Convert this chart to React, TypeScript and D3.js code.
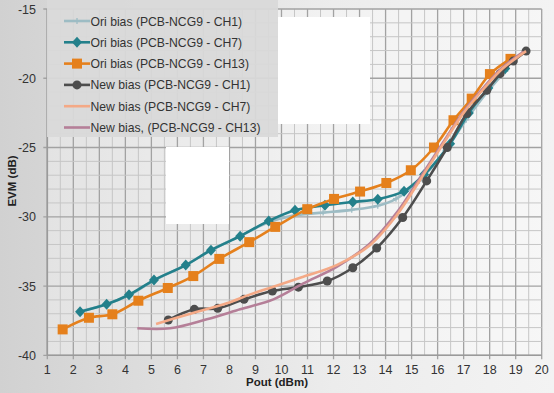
import { useEffect, useRef } from "react";
import * as d3 from "d3";

type Pt = [number, number];

// Pout (dBm), EVM (dB)
const oriCh1: Pt[] = [
  [2.3, -36.8], [3.3, -36.3], [4.2, -35.6], [5.1, -34.6], [6.3, -33.5], [7.3, -32.4],
  [8.4, -31.4], [9.5, -30.4], [10.5, -29.9], [11.6, -29.7], [12.7, -29.5], [13.7, -29.2],
  [14.4, -28.7], [15.3, -27.4], [16.3, -25.2], [17.1, -23.0], [17.9, -21.0], [18.6, -19.5],
];
const oriCh7: Pt[] = [
  [2.26, -36.86], [3.28, -36.32], [4.14, -35.63], [5.1, -34.57], [6.32, -33.49], [7.29, -32.41],
  [8.41, -31.4], [9.51, -30.3], [10.52, -29.53], [11.67, -29.17], [12.74, -28.93], [13.7, -28.73],
  [14.71, -28.15], [15.48, -26.95], [16.48, -24.72], [17.2, -22.5], [17.95, -20.7], [18.6, -19.3],
];
const oriCh13: Pt[] = [
  [1.59, -38.13], [2.6, -37.29], [3.5, -37.04], [4.5, -36.06], [5.63, -35.14], [6.61, -34.28],
  [7.61, -33.04], [8.76, -31.83], [9.76, -30.73], [10.99, -29.45], [12.02, -28.71], [13.02, -28.18],
  [14.03, -27.56], [14.97, -26.64], [15.86, -25.0], [16.61, -23.03], [17.31, -21.47], [18.01, -19.7],
  [18.8, -18.6],
];
const newCh1: Pt[] = [
  [5.65, -37.45], [6.65, -36.68], [7.55, -36.61], [8.56, -35.96], [9.65, -35.36], [10.65, -35.08],
  [11.76, -34.64], [12.74, -33.68], [13.66, -32.26], [14.66, -30.05], [15.58, -27.41], [16.37, -25.0],
  [17.12, -22.55], [17.89, -20.87], [18.4, -19.67], [18.91, -18.76], [19.4, -18.04],
];
const newCh7: Pt[] = [
  [5.18, -37.74], [6.5, -37.0], [7.9, -36.25], [8.8, -35.6], [9.69, -35.05], [10.84, -34.33],
  [12.12, -33.49], [13.4, -32.05], [14.43, -29.88], [15.32, -27.36], [16.22, -24.72], [17.0, -22.5],
  [17.8, -20.7], [18.5, -19.3], [19.4, -18.04],
];
const newCh13: Pt[] = [
  [4.46, -38.05], [5.72, -38.05], [7.13, -37.4], [8.41, -36.68], [9.69, -35.96], [10.84, -34.81],
  [12.12, -33.61], [13.4, -31.93], [14.43, -29.7], [15.32, -27.2], [16.22, -24.6], [17.0, -22.4],
  [17.8, -20.6], [18.5, -19.2], [19.3, -18.1],
];

const xTicks = d3.range(1, 21);
const yTicks = [-40, -35, -30, -25, -20, -15];

const series = [
  { name: "Ori bias (PCB-NCG9 - CH1)", data: oriCh1, color: "#9dbcc4", marker: "plus" },
  { name: "Ori bias (PCB-NCG9 - CH7)", data: oriCh7, color: "#23808b", marker: "diamond" },
  { name: "Ori bias (PCB-NCG9 - CH13)", data: oriCh13, color: "#e5801c", marker: "square" },
  { name: "New bias (PCB-NCG9 - CH1)", data: newCh1, color: "#4d4d4d", marker: "circle" },
  { name: "New bias (PCB-NCG9 - CH7)", data: newCh7, color: "#f4a986", marker: "none" },
  { name: "New bias, (PCB-NCG9 - CH13)", data: newCh13, color: "#b57f98", marker: "none" },
];

export default function App() {
  const svgRef = useRef<SVGSVGElement>(null);

  useEffect(() => {
    if (!svgRef.current) return;
    document.body.style.margin = "0";
    const width = 554;
    const height = 393;
    const svg = d3.select(svgRef.current);
    svg.selectAll("*").remove();

    const x = d3.scaleLinear().domain([1, 20]).range([47.3, 541.7]);
    const y = d3.scaleLinear().domain([-40, -15]).range([355.3, 9]);

    // background
    const defs = svg.append("defs");
    const grad = defs.append("linearGradient").attr("id", "bg").attr("x1", 0).attr("x2", 1).attr("y1", 0).attr("y2", 0);
    grad.append("stop").attr("offset", "0%").attr("stop-color", "#d1d1d1");
    grad.append("stop").attr("offset", "60%").attr("stop-color", "#ececec");
    grad.append("stop").attr("offset", "100%").attr("stop-color", "#f3f3f3");
    svg.append("rect").attr("width", width).attr("height", height).attr("fill", "url(#bg)");
    svg.append("rect")
      .attr("x", x(1)).attr("y", y(-15))
      .attr("width", x(20) - x(1)).attr("height", y(-40) - y(-15))
      .attr("fill", "#ffffff").attr("opacity", 0.35);

    // grid
    const grid = svg.append("g");
    d3.range(1, 20.01, 0.5).forEach(v => {
      const major = Number.isInteger(v);
      grid.append("line")
        .attr("x1", x(v)).attr("x2", x(v)).attr("y1", y(-15)).attr("y2", y(-40) + (major ? 4 : 0))
        .attr("stroke", major ? "#a2a2a2" : "#c6c6c6").attr("stroke-width", major ? 1.3 : 1);
    });
    d3.range(-40, -14.9, 1).forEach(v => {
      const major = v % 5 === 0;
      grid.append("line")
        .attr("x1", x(1) - (major ? 4 : 0)).attr("x2", x(20)).attr("y1", y(v)).attr("y2", y(v))
        .attr("stroke", major ? "#a2a2a2" : "#c6c6c6").attr("stroke-width", major ? 1.3 : 1);
    });
    grid.append("line").attr("x1", x(1)).attr("x2", x(20)).attr("y1", y(-40)).attr("y2", y(-40))
      .attr("stroke", "#9a9a9a").attr("stroke-width", 1.6);
    grid.append("line").attr("x1", x(1)).attr("x2", x(1)).attr("y1", y(-15)).attr("y2", y(-40))
      .attr("stroke", "#9a9a9a").attr("stroke-width", 1.6);

    // blanked patches in the picture
    svg.append("rect").attr("x", 278).attr("y", 17).attr("width", 92).attr("height", 107).attr("fill", "#ffffff");
    svg.append("rect").attr("x", 166).attr("y", 147).attr("width", 63).attr("height", 77).attr("fill", "#ffffff");

    // tick labels
    const font = "Liberation Sans, Arial, sans-serif";
    svg.append("g").selectAll("text").data(xTicks).join("text")
      .attr("x", d => x(d)).attr("y", 374)
      .attr("text-anchor", "middle").attr("font-family", font).attr("font-size", 12.5).attr("fill", "#333")
      .text(d => d);
    svg.append("g").selectAll("text").data(yTicks).join("text")
      .attr("x", 36).attr("y", d => y(d) + 4.5)
      .attr("text-anchor", "end").attr("font-family", font).attr("font-size", 12.5).attr("fill", "#333")
      .text(d => d);

    svg.append("text").attr("x", 277).attr("y", 386).attr("text-anchor", "middle")
      .attr("font-family", font).attr("font-size", 11.5).attr("font-weight", "bold").attr("fill", "#222")
      .text("Pout (dBm)");
    svg.append("text").attr("transform", `translate(16,181) rotate(-90)`).attr("text-anchor", "middle")
      .attr("font-family", font).attr("font-size", 11.5).attr("font-weight", "bold").attr("fill", "#222")
      .text("EVM (dB)");

    // lines
    const line = d3.line<Pt>().x(d => x(d[0])).y(d => y(d[1])).curve(d3.curveCatmullRom.alpha(0.5));
    const drawMarker = (g: any, kind: string, cx: number, cy: number, color: string) => {
      if (kind === "square") {
        g.append("rect").attr("x", cx - 5).attr("y", cy - 5).attr("width", 10).attr("height", 10).attr("fill", color);
      } else if (kind === "diamond") {
        g.append("path").attr("d", `M${cx},${cy - 5.5}L${cx + 5},${cy}L${cx},${cy + 5.5}L${cx - 5},${cy}Z`).attr("fill", color);
      } else if (kind === "circle") {
        g.append("circle").attr("cx", cx).attr("cy", cy).attr("r", 4.5).attr("fill", color);
      } else if (kind === "plus") {
        g.append("path").attr("d", `M${cx - 3},${cy}H${cx + 3}M${cx},${cy - 3}V${cy + 3}`).attr("stroke", color).attr("stroke-width", 1.3);
      }
    };

    const order = [0, 1, 2, 3, 5, 4];
    order.forEach(i => {
      const s = series[i];
      const g = svg.append("g");
      g.append("path").attr("d", line(s.data)).attr("fill", "none")
        .attr("stroke", s.color).attr("stroke-width", 2.6).attr("stroke-linejoin", "round");
      s.data.forEach(d => drawMarker(g, s.marker, x(d[0]), y(d[1]), s.color));
    });

    // legend
    const lg = svg.append("g");
    lg.append("rect").attr("x", 47).attr("y", 0).attr("width", 231).attr("height", 137).attr("fill", "#d9d9d9").attr("opacity", 0.95);
    series.forEach((s, i) => {
      const ly = 21 + i * 21.3;
      lg.append("line").attr("x1", 64).attr("x2", 90).attr("y1", ly).attr("y2", ly)
        .attr("stroke", s.color).attr("stroke-width", 2.6);
      drawMarker(lg, s.marker, 77, ly, s.color);
      lg.append("text").attr("x", 90.5).attr("y", ly + 4.5)
        .attr("font-family", font).attr("font-size", 12.2).attr("fill", "#333")
        .text(s.name);
    });
  }, []);

  return <svg ref={svgRef} width={554} height={393} style={{ display: "block" }} />;
}
